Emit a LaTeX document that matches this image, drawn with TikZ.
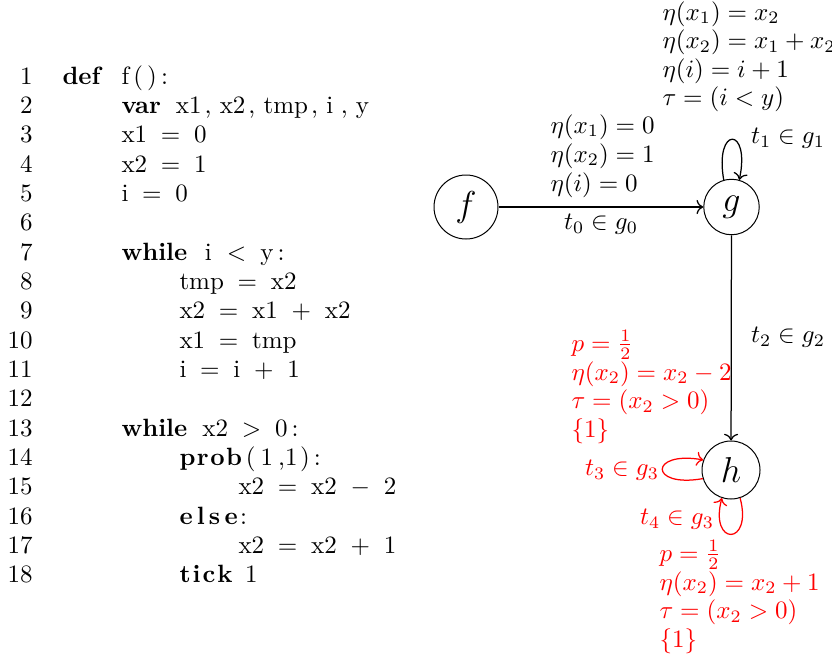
\documentclass[tikz,border=0pt]{standalone}
\usetikzlibrary{arrows.meta}
\newcommand\cgap{\hspace{5.5pt}}
\newcommand\cm{\hspace{1.2pt},\hspace{3.3pt}}
\begin{document}
\begin{tikzpicture}[x=0.4pt,y=-0.4pt,
  every node/.style={inner sep=0pt, font=\fontsize{10}{12}\selectfont},
  num/.style={anchor=base east},
  code/.style={anchor=base west},
  lbl/.style={anchor=base west},
  state/.style={draw, circle, inner sep=0pt, font=\Large},
  redlbl/.style={anchor=base west, text=red},
  edge/.style={->, line width=0.5pt}]
\useasboundingbox (0,0) rectangle (832,660);

% line numbers
\foreach \n in {1,...,18}{
  \node[num] (n\n) at (33,{84+(\n-1)*29.35}) {\n};
}
% code
\node[code] (c1) at (62,84) {\makebox[23.6pt][l]{\textbf{def}}f\,(\,)\,:};
\node[code] (c2) at (121,{84+1*29.35}) {\textbf{var}\hspace{6pt}x1\cm x2\cm tmp\cm i\hspace{3pt},\hspace{3.3pt}y};
\node[code] (c3) at (121,{84+2*29.35}) {x1\cgap=\cgap 0};
\node[code] (c4) at (121,{84+3*29.35}) {x2\cgap=\cgap 1};
\node[code] (c5) at (121,{84+4*29.35}) {i\cgap=\cgap 0};
\node[code] (c7) at (121,{84+6*29.35}) {\textbf{while}\hspace{7pt}i\hspace{6pt}$<$\hspace{5.6pt}y\,:};
\node[code] (c8) at (179,{84+7*29.35}) {tmp\cgap=\cgap x2};
\node[code] (c9) at (179,{84+8*29.35}) {x2\cgap=\cgap x1\cgap $+$\cgap x2};
\node[code] (c10) at (179,{84+9*29.35}) {x1\cgap=\cgap tmp};
\node[code] (c11) at (179,{84+10*29.35}) {i\cgap=\cgap i\cgap $+$\cgap 1};
\node[code] (c13) at (121,{84+12*29.35}) {\textbf{while}\hspace{6pt}x2\hspace{5.5pt}$>$\hspace{5.5pt}0\,:};
\node[code] (c14) at (179,{84+13*29.35}) {\textbf{p\hspace{0.6pt}r\hspace{0.6pt}o\hspace{0.6pt}b}\hspace{1.5pt}(\hspace{2pt}1\hspace{2pt},1\hspace{1pt})\,:};
\node[code] (c15) at (238,{84+14*29.35}) {x2\cgap=\cgap x2\cgap $-$\cgap 2};
\node[code] (c16) at (179,{84+15*29.35}) {\textbf{e\,l\,s\,e}\hspace{1pt}:};
\node[code] (c17) at (238,{84+16*29.35}) {x2\cgap=\cgap x2\cgap $+$\cgap 1};
\node[code] (c18) at (179,{84+17*29.35}) {\textbf{t\hspace{0.8pt}i\hspace{0.8pt}c\hspace{0.8pt}k}\hspace{5pt}1};

% automaton
\node[state, minimum size=25.6pt] (f) at (466,207) {$f$};
\node[state, minimum size=22.2pt] (g) at (731.5,207) {$g$};
\node[state, minimum size=23.2pt] (h) at (731,470) {$h$};

\draw[edge] (f) -- (g);
\draw[edge] (g) -- (h);
\draw[edge] (g.106) .. controls +(100:22pt) and +(78:22pt) .. (g.74);
\draw[edge, red] (h.197) .. controls +(190:22pt) and +(170:22pt) .. (h.160);
\draw[edge, red] (h.288) .. controls +(285:20pt) and +(255:20pt) .. (h.252);

\node (t0) at (601,224) {$t_0\in g_0$};
\node (t1) at (788,138) {$t_1\in g_1$};
\node (t2) at (788,337) {$t_2\in g_2$};
\node[text=red] (t3) at (622,470) {$t_3\in g_3$};
\node[text=red] (t4) at (677,519) {$t_4\in g_3$};

\node[lbl] (a1) at (550,133) {$\eta(x_1)=0$};
\node[lbl] (a2) at (550,162) {$\eta(x_2)=1$};
\node[lbl] (a3) at (550,191) {$\eta(i)=0$};

\node[lbl] (b1) at (662,20) {$\eta(x_1)=x_2$};
\node[lbl] (b2) at (662,48.5) {$\eta(x_2)=x_1+x_2$};
\node[lbl] (b3) at (662,77) {$\eta(i)=i+1$};
\node[lbl] (b4) at (662,105.5) {$\tau=(i<y)$};

\node[redlbl] (r1) at (571,351) {$p=\frac{1}{2}$};
\node[redlbl] (r2) at (571,380) {$\eta(x_2)=x_2-2$};
\node[redlbl] (r3) at (571,408.5) {$\tau=(x_2>0)$};
\node[redlbl] (r4) at (571,437) {$\{1\}$};

\node[redlbl] (s1) at (659,561) {$p=\frac{1}{2}$};
\node[redlbl] (s2) at (659,590) {$\eta(x_2)=x_2+1$};
\node[redlbl] (s3) at (659,618.5) {$\tau=(x_2>0)$};
\node[redlbl] (s4) at (659,647) {$\{1\}$};
\end{tikzpicture}
\end{document}
